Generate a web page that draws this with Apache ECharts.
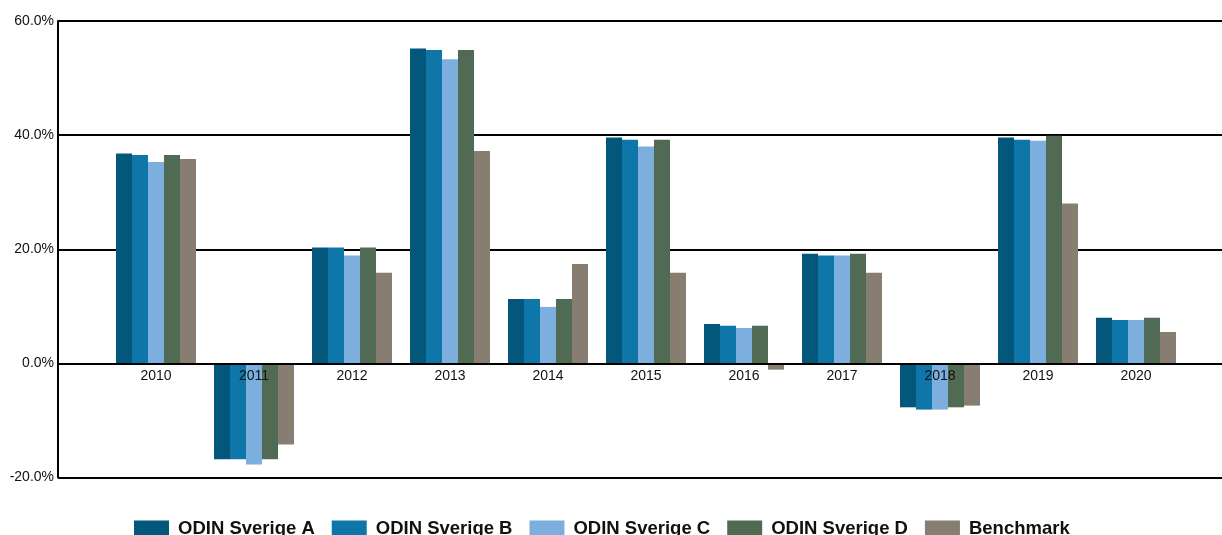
<!DOCTYPE html>
<html>
<head>
<meta charset="utf-8">
<title>ODIN Sverige</title>
<script src="https://cdn.jsdelivr.net/npm/echarts@6/dist/echarts.min.js"></script>
<style>
	html, body { margin: 0; padding: 0; background: #fff; overflow: hidden; }
	/* wider than the window on purpose: the plot runs off the right edge */
	#tb1 { width: 1240px; height: 535px; }
</style>
</head>
<body>
<div id="tb1"></div>
<script>
/*	data	*/
var years = ['2010','2011','2012','2013','2014','2015','2016','2017','2018','2019','2020'];
var names = ['ODIN Sverige A','ODIN Sverige B','ODIN Sverige C','ODIN Sverige D','Benchmark'];
var sverigeA = [36.8, -16.8, 20.3, 55.2, 11.3, 39.6, 6.9, 19.2, -7.7, 39.6, 8.0];
var sverigeB = [36.5, -16.8, 20.3, 54.9, 11.3, 39.2, 6.6, 18.9, -8.1, 39.2, 7.6];
var sverigeC = [35.3, -17.7, 18.9, 53.3, 9.9, 38.0, 6.2, 18.9, -8.1, 39.0, 7.6];
var sverigeD = [36.5, -16.8, 20.3, 54.9, 11.3, 39.2, 6.6, 19.2, -7.7, 39.9, 8.0];
var benchmark = [35.8, -14.2, 15.9, 37.2, 17.4, 15.9, -1.1, 15.9, -7.4, 28.0, 5.5];
var yTicks = [-20, 0, 20, 40, 60];
var colors = ['#03577a', '#0f76aa', '#7caede', '#516a53', '#877d71'];

/*	blank slot before and after the years	*/
function pad(arr){
	return [null].concat(arr, [null]);
}

var myChart1 = echarts.init(document.getElementById('tb1'));
var all = [sverigeA, sverigeB, sverigeC, sverigeD, benchmark];
var series = [];
for (var i = 0; i < all.length; i++) {
	series.push({
		name: names[i],
		type: 'bar',
		barWidth: 16,
		barGap: '0%',
		data: pad(all[i])
	});
}

var option1 = {
	animation: false,
	color: colors,
	textStyle: { fontFamily: 'Liberation Sans, Arial, sans-serif' },
	grid: { left: 58, right: 6, top: 21, bottom: 57.5, containLabel: false },
	legend: {
		left: 129,
		top: 514,
		icon: 'rect',
		itemWidth: 35,
		itemHeight: 16,
		itemGap: 17,
		data: names,
		textStyle: {
			fontSize: 18.5, fontWeight: 'bold', color: '#111',
			fontFamily: 'Liberation Sans, Arial, sans-serif',
			padding: [0, 0, 0, 4]
		}
	},
	xAxis: {
		type: 'category',
		data: pad(years).map(function(v){ return v == null ? '' : v; }),
		boundaryGap: false,
		z: 5,
		// sit the labels on the 0% line
		offset: -114,
		axisLine: { onZero: false, lineStyle: { color: '#000', width: 2 } },
		axisTick: { show: false },
		axisLabel: { color: '#111', fontSize: 14, margin: 6, interval: 0 },
		splitLine: { show: false }
	},
	yAxis: {
		type: 'value',
		min: yTicks[0],
		max: yTicks[yTicks.length - 1],
		interval: 20,
		axisLine: { show: true, lineStyle: { color: '#000', width: 2 } },
		axisTick: { show: false },
		axisLabel: {
			color: '#111', fontSize: 14, margin: 4,
			formatter: function(v){ return v.toFixed(1) + '%'; }
		},
		splitLine: { lineStyle: { color: '#000', width: 2 } }
	},
	series: series
};
myChart1.setOption(option1);
</script>
</body>
</html>
